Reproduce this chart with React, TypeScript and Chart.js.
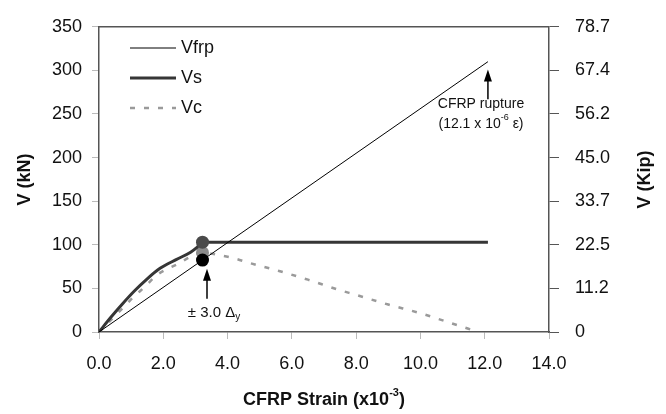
import React, { useEffect, useRef } from 'react';
import { Chart, registerables } from 'chart.js';

Chart.register(...registerables);

// ---- data ----
const frpStrain = [0, 3.22, 12.1];
const frpShear = [0, 82.5, 310];

const steelStrain = [0, 0.35, 0.7, 1.1, 1.5, 1.9, 2.4, 2.85, 3.05, 3.22, 12.1];
const steelShear = [0, 16, 31, 47, 61, 73, 83, 91.5, 97, 103, 103];

const concStrain = [0, 0.7, 1.07, 1.43, 1.79, 2.16, 2.46, 2.83, 3.22, 3.76, 4.2, 4.7, 5.6, 6.5, 7.4, 8.0, 9.0, 10.0, 10.8, 11.8];
const concShear = [0, 26, 40, 52, 65, 73, 78, 86, 91, 88, 84.5, 79, 70, 60, 49, 42.5, 31.5, 21.5, 12, 0];

const xTicks = [0, 2, 4, 6, 8, 10, 12, 14];
const kNTicks = [0, 50, 100, 150, 200, 250, 300, 350];
const kipLabels = ['0', '11.2', '22.5', '33.7', '45.0', '56.2', '67.4', '78.7'];
const seriesNames = ['Vfrp', 'Vs', 'Vc'];
const yieldStrain = 3.22;
const ruptureStrain = 12.1;

const FONT = "'Liberation Sans', Arial, sans-serif";

const toPts = (xs: number[], ys: number[]) => xs.map((x, i) => ({ x, y: ys[i] }));

const lineStyles = [
  { color: '#000000', width: 1, dash: [] as number[], marker: '#000000' },
  { color: '#363636', width: 3, dash: [] as number[], marker: '#4a4a4a' },
  { color: '#9a9a9a', width: 2.5, dash: [5, 9], marker: '#8c8c8c' },
];

function drawRich(ctx: CanvasRenderingContext2D, parts: { t: string; f: string; dy?: number }[], cx: number, cy: number) {
  let total = 0;
  for (const p of parts) { ctx.font = p.f; total += ctx.measureText(p.t).width; }
  let x = cx - total / 2;
  ctx.textAlign = 'left';
  ctx.textBaseline = 'middle';
  for (const p of parts) {
    ctx.font = p.f;
    ctx.fillText(p.t, x, cy + (p.dy || 0));
    x += ctx.measureText(p.t).width;
  }
}

function arrow(ctx: CanvasRenderingContext2D, x: number, yTip: number, yEnd: number) {
  ctx.save();
  ctx.strokeStyle = '#000';
  ctx.fillStyle = '#000';
  ctx.lineWidth = 1.5;
  ctx.beginPath();
  ctx.moveTo(x, yEnd);
  ctx.lineTo(x, yTip + 8);
  ctx.stroke();
  ctx.beginPath();
  ctx.moveTo(x, yTip);
  ctx.lineTo(x - 4, yTip + 12);
  ctx.lineTo(x + 4, yTip + 12);
  ctx.closePath();
  ctx.fill();
  ctx.restore();
}

const decor = {
  id: 'decor',
  afterDraw(chart: any) {
    const { ctx, chartArea: a, scales } = chart;
    const xs = scales.x, ys = scales.y;
    ctx.save();
    // top border
    ctx.strokeStyle = '#555';
    ctx.lineWidth = 1.5;
    ctx.beginPath();
    ctx.moveTo(a.left, a.top);
    ctx.lineTo(a.right, a.top);
    ctx.stroke();

    ctx.fillStyle = '#111';
    const cy = (a.top + a.bottom) / 2;
    // left title
    ctx.save();
    ctx.translate(25, cy);
    ctx.rotate(-Math.PI / 2);
    ctx.font = `bold 18px ${FONT}`;
    ctx.textAlign = 'center';
    ctx.textBaseline = 'middle';
    ctx.fillText('V (kN)', 0, 0);
    ctx.restore();
    // right title
    ctx.save();
    ctx.translate(645, cy);
    ctx.rotate(-Math.PI / 2);
    ctx.font = `bold 18px ${FONT}`;
    ctx.textAlign = 'center';
    ctx.textBaseline = 'middle';
    ctx.fillText('V (Kip)', 0, 0);
    ctx.restore();
    // bottom title
    drawRich(ctx, [
      { t: 'CFRP Strain (x10', f: `bold 18px ${FONT}` },
      { t: '-3', f: `bold 11px ${FONT}`, dy: -7 },
      { t: ')', f: `bold 18px ${FONT}` },
    ], (a.left + a.right) / 2, 400);

    // legend
    const lx0 = 130, lx1 = 176;
    const ly = [48, 78, 108];
    seriesNames.forEach((name, i) => {
      const s = lineStyles[i];
      ctx.save();
      ctx.strokeStyle = s.color;
      ctx.lineWidth = s.width;
      ctx.setLineDash(s.dash);
      ctx.beginPath();
      ctx.moveTo(lx0, ly[i]);
      ctx.lineTo(lx1, ly[i]);
      ctx.stroke();
      ctx.restore();
      ctx.font = `18px ${FONT}`;
      ctx.textAlign = 'left';
      ctx.textBaseline = 'middle';
      ctx.fillStyle = '#111';
      ctx.fillText(name, 181, ly[i]);
    });

    // rupture annotation
    const rx = xs.getPixelForValue(ruptureStrain);
    arrow(ctx, rx, ys.getPixelForValue(301), ys.getPixelForValue(267));
    ctx.fillStyle = '#111';
    drawRich(ctx, [{ t: 'CFRP rupture', f: `14px ${FONT}` }], 481, 104);
    drawRich(ctx, [
      { t: '(12.1 x 10', f: `14px ${FONT}` },
      { t: '-6', f: `9px ${FONT}`, dy: -6 },
      { t: ' \u03B5)', f: `14px ${FONT}` },
    ], 481, 124);

    // yield annotation
    const yx = xs.getPixelForValue(3.36);
    arrow(ctx, yx, ys.getPixelForValue(72.5), ys.getPixelForValue(38));
    drawRich(ctx, [
      { t: '\u00B1 3.0 \u0394', f: `15px ${FONT}` },
      { t: 'y', f: `10px ${FONT}`, dy: 4 },
    ], 214, 313);
    ctx.restore();
  },
};

export default function App() {
  const ref = useRef<HTMLCanvasElement | null>(null);
  useEffect(() => {
    if (!ref.current) return;
    Chart.defaults.font.family = FONT;
    const series = [toPts(frpStrain, frpShear), toPts(steelStrain, steelShear), toPts(concStrain, concShear)];
    const chart = new Chart(ref.current, {
      type: 'line',
      data: {
        datasets: series.map((d, i) => ({
          label: seriesNames[i],
          data: d,
          borderColor: lineStyles[i].color,
          borderWidth: lineStyles[i].width,
          borderDash: lineStyles[i].dash,
          cubicInterpolationMode: i === 0 ? 'default' : 'monotone',
          pointRadius: (c: any) => (c.raw && c.raw.x === yieldStrain ? 6.5 : 0),
          pointBackgroundColor: lineStyles[i].marker,
          pointBorderColor: lineStyles[i].marker,
          pointBorderWidth: 0,
          fill: false,
        })),
      } as any,
      options: {
        animation: false,
        responsive: true,
        maintainAspectRatio: false,
        devicePixelRatio: 1,
        layout: { padding: { top: 17.5, left: 0, right: 0, bottom: 0 } },
        plugins: { legend: { display: false }, tooltip: { enabled: false } },
        scales: {
          x: {
            type: 'linear',
            min: 0,
            max: 14,
            afterBuildTicks: (s: any) => { s.ticks = xTicks.map((v) => ({ value: v })); },
            afterFit: (s: any) => { s.height = 82; },
            ticks: { callback: (v: any) => Number(v).toFixed(1), font: { size: 18 }, color: '#111', padding: 14, maxRotation: 0 },
            grid: { drawOnChartArea: false, tickLength: 7, tickColor: '#bbb' },
            border: { color: '#555', width: 1.5 },
          },
          y: {
            type: 'linear',
            position: 'left',
            min: 0,
            max: 350,
            afterBuildTicks: (s: any) => { s.ticks = kNTicks.map((v) => ({ value: v })); },
            afterFit: (s: any) => { s.width = 99; },
            ticks: { font: { size: 18 }, color: '#111', padding: 10 },
            grid: { drawOnChartArea: false, tickLength: 7, tickColor: '#bbb' },
            border: { color: '#555', width: 1.5 },
          },
          y2: {
            type: 'linear',
            position: 'right',
            min: 0,
            max: 350,
            afterBuildTicks: (s: any) => { s.ticks = kNTicks.map((v) => ({ value: v })); },
            afterFit: (s: any) => { s.width = 117; },
            ticks: { callback: (_v: any, i: number) => kipLabels[i], font: { size: 18 }, color: '#111', padding: 16 },
            grid: { drawOnChartArea: false, tickLength: 10, tickColor: '#555' },
            border: { color: '#555', width: 1.5 },
          },
        },
      } as any,
      plugins: [decor],
    });
    return () => chart.destroy();
  }, []);
  return (
    <div style={{ position: 'fixed', left: 0, top: 0, width: 666, height: 414, background: '#fff' }}>
      <canvas ref={ref} />
    </div>
  );
}
